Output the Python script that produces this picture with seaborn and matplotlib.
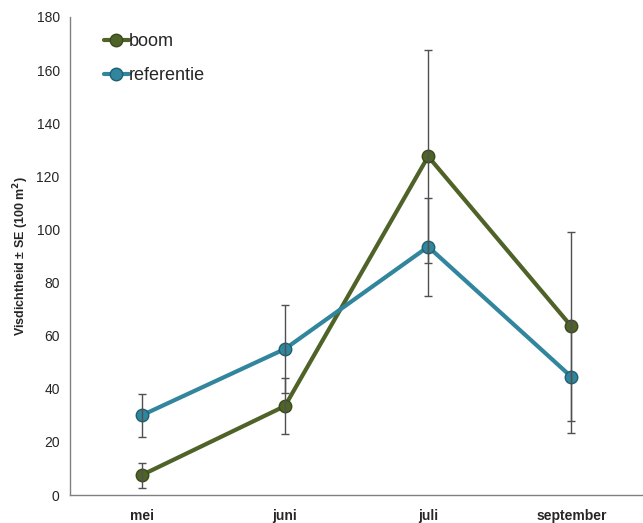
import numpy as np
import pandas as pd
import seaborn as sns
import matplotlib
matplotlib.use("Agg")
import matplotlib.pyplot as plt

months = ["mei", "juni", "juli", "september"]
boom = [7.5, 33.5, 127.5, 63.5]
boom_se = [4.7, 10.5, 40.0, 35.5]
referentie = [30.0, 55.0, 93.5, 44.5]
referentie_se = [8.0, 16.5, 18.5, 21.0]

colors = {"boom": "#4f6228", "referentie": "#31859c"}
edges = {"boom": "#3a4a1c", "referentie": "#1f6070"}

df = pd.DataFrame({
    "maand": months * 2,
    "waarde": boom + referentie,
    "se": boom_se + referentie_se,
    "groep": ["boom"] * 4 + ["referentie"] * 4,
})

sns.set_style("white")
plt.rcParams["font.family"] = ["Liberation Sans", "DejaVu Sans"]

fig = plt.figure(figsize=(6.43, 5.23), dpi=100)
ax = fig.add_axes([0.109, 0.0535, 0.891, 0.914])

sns.pointplot(data=df, x="maand", y="waarde", hue="groep", order=months,
              palette=colors, errorbar=None, markers="o", linewidth=3,
              markersize=9, ax=ax)

# donkere rand om de markers
for line in ax.lines:
    c = matplotlib.colors.to_hex(line.get_color())
    for g, col in colors.items():
        if c == col:
            line.set_markeredgecolor(edges[g])
            line.set_markeredgewidth(1)

# foutbalken (SE)
for g in ["boom", "referentie"]:
    sub = df[df["groep"] == g]
    ax.errorbar(np.arange(len(months)), sub["waarde"], yerr=sub["se"],
                fmt="none", ecolor="#505050", elinewidth=1, capsize=3,
                capthick=1, zorder=5)

ax.set_ylim(0, 180)
ax.set_xlim(-0.5, 3.5)
ax.set_yticks(np.arange(0, 181, 20))
ax.set_xticks([0.5, 1.5, 2.5], minor=True)
ax.tick_params(axis="x", which="major", length=0, labelsize=10, pad=10)
ax.tick_params(axis="x", which="minor", length=4, color="#808080", direction="out")
ax.tick_params(axis="y", length=4, color="#808080", direction="out", labelsize=10)
for lab in ax.get_xticklabels():
    lab.set_fontweight("bold")

ax.set_xlabel("")
ax.set_ylabel("Visdichtheid ± SE (100 m$^\\mathbf{2}$)", fontsize=9, fontweight="bold")
for s in ["top", "right"]:
    ax.spines[s].set_visible(False)
for s in ["left", "bottom"]:
    ax.spines[s].set_color("#808080")
    ax.spines[s].set_linewidth(1)

ax.legend(loc="upper left", bbox_to_anchor=(0.03, 1.0), frameon=False,
          fontsize=13, handlelength=1.4, handletextpad=0.0, labelspacing=0.95)

fig.savefig("out.png", dpi=100)
